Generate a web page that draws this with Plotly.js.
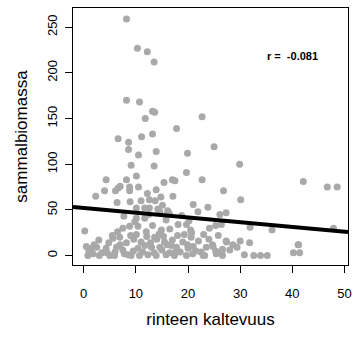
<!DOCTYPE html>
<html>
<head>
<meta charset="utf-8">
<script src="https://cdn.plot.ly/plotly-3.0.1.min.js"></script>
<style>html,body{margin:0;padding:0;background:#fff;}#chart{width:355px;height:338px;}</style>
</head>
<body>
<div id="chart"></div>
<script>
// rinteen kaltevuus (slope) values
const slopeX = [
  8.2,10.3,12.2,13.5,8.2,10.7,13.2,13.6,11.8,22.7,17.8,6.6,11.1,13.2,
  25.0,29.9,42.1,46.7,48.6,
  8.6,8.6,10.5,13.9,19.9,9.1,13.5,19.7,10.1,4.3,8.2,17.0,17.5,15.4,22.7,
  7.0,6.6,8.8,10.5,8.8,6.1,4.0,13.9,26.8,
  2.3,14.8,17.1,12.6,13.7,30.1,6.4,8.9,21.0,23.8,
  10.1,11.7,12.6,15.1,14.2,
  21.9,14.6,16.1,26.1,27.3,15.8,16.4,7.7,10.1,11.7,15.8,
  13.2,8.8,10.4,14.9,18.1,19.7,24.1,25.3,26.4,31.9,36.1,47.9,
  0.2,10.1,12.1,13.6,19.3,20.6,23.0,20.7,
  2.9,5.6,6.9,8.2,9.6,11.7,15.5,16.8,27.3,28.6,30.0,31.8,41.1,19.9,24.7,27.4,
  0.5,1.5,4.3,6.3,7.5,10.4,13.0,14.6,17.8,20.0,23.5,24.8,25.3,26.6,28.0,29.4,21.5,17.7,26.5,
  0.8,1.8,5.0,5.9,8.5,9.1,10.7,12.3,13.9,15.8,17.4,19.7,20.9,22.9,23.2,25.4,26.6,30.8,32.6,33.9,35.2,40.2,41.4,41.2,
  1.0,2.0,3.5,4.8,6.0,7.0,7.8,9.0,9.5,11.0,11.3,12.0,12.8,13.5,14.0,14.5,15.0,15.3,16.0,16.5,17.0,18.0,18.5,19.0,20.5,21.0,22.0,22.5,24.0,25.8,
  6.5,9.8,12.5,18.8,20.2,16.5,11.0,12.2,7.5,5.5,3.0,2.5,4.5
];
// sammalbiomassa (moss biomass) values
const biomassY = [
  259,227,223,212,170,168,158,157,150,152,139,128,130,133,
  119,100,81,75,75,
  124,116,110,114,112,99,98,91,87,83,83,83,82,80,83,
  76,74,75,75,71,71,71,72,71,
  65,64,65,61,60,61,58,59,56,53,
  52,52,52,55,51,
  48,48,49,45,47,44,46,43,41,41,39,
  33,32,32,28,34,34,30,33,34,31,28,30,
  27,23,21,20,23,20,23,25,
  17,19,20,14,18,11,15,11,16,12,16,14,12,12,12,15,
  10,8,8,9,6,8,9,9,9,8,9,10,5,7,6,9,5,5,4,
  0,2,0,0,1,0,0,1,0,1,0,0,2,0,0,2,0,1,0,0,0,3,3,12,
  5,12,3,14,4,12,2,22,5,15,4,26,14,3,18,24,6,21,12,3,17,22,4,15,28,10,16,4,18,22,
  26,37,45,44,38,29,60,68,30,22,0,9,3
];
// fitted regression line coefficients
const fitIntercept = 52.2;
const fitSlope = -0.52;
const rLabel = "r =  -0.081";
const xTicks = [0, 10, 20, 30, 40, 50];
const yTicks = [0, 50, 100, 150, 200, 250];

const xRange = [-2.05, 50.67];
const yRange = [-10.3, 271];
const fitX = [xRange[0], xRange[1]];
const fitY = fitX.map(v => fitIntercept + fitSlope * v);

const font = "Liberation Sans, Arial, sans-serif";

const traces = [
  {
    x: slopeX, y: biomassY, type: 'scatter', mode: 'markers',
    marker: {color: '#a9a9a9', size: 7, line: {width: 0}},
    hoverinfo: 'skip', showlegend: false, cliponaxis: true
  },
  {
    x: fitX, y: fitY, type: 'scatter', mode: 'lines',
    line: {color: '#000000', width: 4},
    hoverinfo: 'skip', showlegend: false
  }
];

const layout = {
  width: 355, height: 338,
  margin: {l: 73, r: 7, t: 8, b: 73, pad: 0},
  paper_bgcolor: '#ffffff', plot_bgcolor: '#ffffff',
  font: {family: font, color: '#000000', size: 13},
  showlegend: false,
  xaxis: {
    range: xRange, tickmode: 'array', tickvals: xTicks, ticktext: xTicks.map(String),
    showgrid: false, zeroline: false, showline: true, mirror: true,
    linecolor: '#000000', linewidth: 1,
    ticks: 'outside', ticklen: 7, tickwidth: 1, tickcolor: '#000000',
    ticklabelstandoff: 9,
    tickfont: {family: font, size: 13, color: '#000000'},
    title: {text: 'rinteen kaltevuus', font: {family: font, size: 17, color: '#000000'}, standoff: 13}
  },
  yaxis: {
    range: yRange, tickmode: 'array', tickvals: yTicks, ticktext: yTicks.map(String),
    showgrid: false, zeroline: false, showline: true, mirror: true,
    linecolor: '#000000', linewidth: 1,
    ticks: 'outside', ticklen: 7, tickwidth: 1, tickcolor: '#000000',
    tickangle: -90, ticklabelstandoff: 3,
    tickfont: {family: font, size: 13, color: '#000000'},
    title: {text: 'sammalbiomassa', font: {family: font, size: 17, color: '#000000'}, standoff: 12}
  },
  annotations: [{
    x: 40, y: 218, xref: 'x', yref: 'y', text: '<b>' + rLabel + '</b>',
    showarrow: false, font: {family: font, size: 11, color: '#000000'},
    xanchor: 'center', yanchor: 'middle'
  }]
};

Plotly.newPlot('chart', traces, layout, {displayModeBar: false, staticPlot: true});
</script>
</body>
</html>
